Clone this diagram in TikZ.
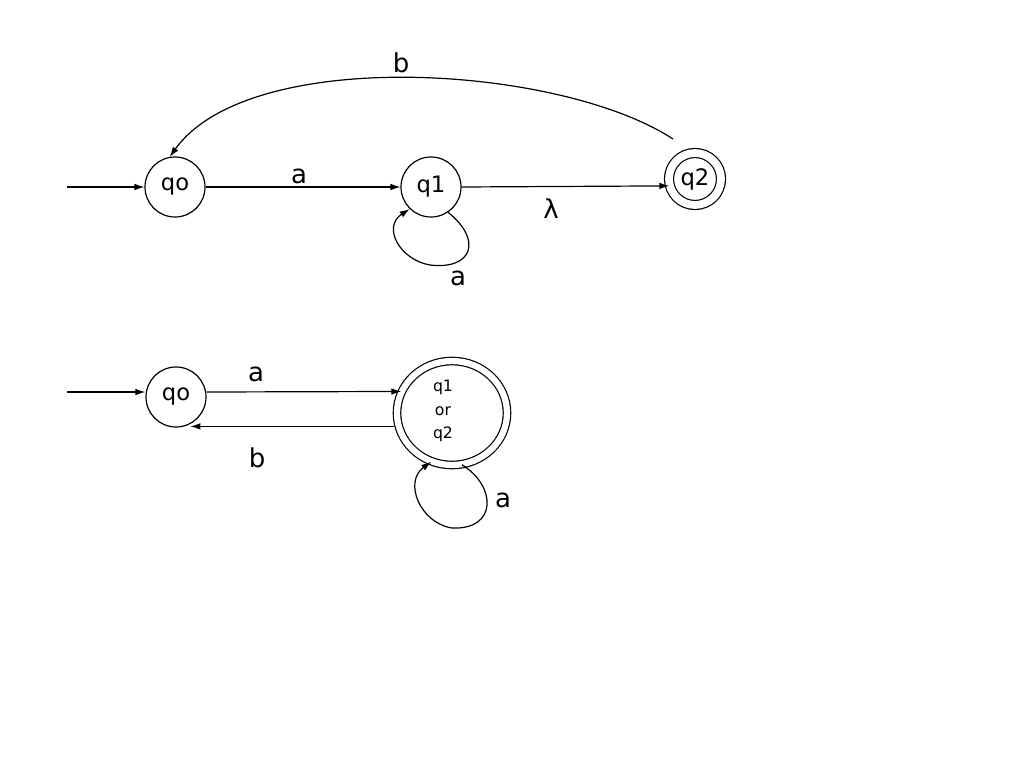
\documentclass[tikz,border=0pt]{standalone}
\usepackage{fontspec}
\setmainfont{DejaVu Sans}
\usetikzlibrary{arrows.meta,shapes.geometric,calc}
\begin{document}
\begin{tikzpicture}[x=0.75pt,y=-0.75pt,
  line width=0.9pt,
  arr/.style={-{Latex[length=7.5pt,width=5pt]}},
  state/.style={circle,draw,minimum size=45pt,inner sep=0pt,font=\fontsize{17}{20}\selectfont},
  accstate/.style={circle,draw,double,double distance=5.85pt,minimum size=39pt,inner sep=0pt,font=\fontsize{17}{20}\selectfont},
  bigacc/.style={ellipse,draw,double,double distance=4.7pt,minimum width=82.5pt,minimum height=78pt,inner sep=0pt},
  lbl/.style={inner sep=0pt,font=\fontsize{19.5}{23}\selectfont},
  smalltxt/.style={inner sep=0pt,align=center,font=\fontsize{11.8}{17.6}\selectfont}]
\path[use as bounding box,fill=white] (0,0) rectangle (1024,768);

% ---------- top automaton ----------
\node[state] (qoA) at (175,187) {qo};
\node[state] (qA1) at (431,187) {q1};
\node[accstate] (qA2) at (695,179) {q2};
\coordinate (sA) at (67,187);
\coordinate (q2b) at ($(qA2.center)+(-22,-40)$);

\draw[arr] (sA) -- (qoA.west);
\draw[arr] (qoA.east) -- (qA1.west);
\draw[arr] (qA1.east) -- (qA2.195);
\draw[arr] (q2b) .. controls (560,65) and (250,45) .. (qoA.100);
\draw[arr] (qA1.-56) .. controls +(35,28) and +(42,5) .. (430,265)
           .. controls +(-30,-5) and +(-28,18) .. (qA1.-134);

\node[lbl] (la1) at (299,176) {a};
\node[lbl] (llam) at (551,209) {λ};
\node[lbl] (lb1) at (401,63) {b};
\node[lbl] (la2) at (458,278) {a};

% ---------- bottom automaton ----------
\node[state] (qoB) at (176,397) {qo};
\node[bigacc] (qB) at (452,413) {};
\node[smalltxt] (qBt) at (443,411) {q1\\or\\q2};
\coordinate (sB) at (67,392);

\draw[arr] (sB) -- (qoB.west |- sB);
\draw[arr] (qoB.east |- sB) -- (qB.157);
\draw[arr] ([xshift=-3pt]qB.194) -- (qoB.-62 |- qB.194);
\draw[arr] (qB.-79) .. controls +(35,22) and +(45,2) .. (452,528)
           .. controls +(-32,-5) and +(-28,20) .. (qB.-113);

\node[lbl] (lb3) at (256,374) {a};
\node[lbl] (lb4) at (257,458) {b};
\node[lbl] (lb5) at (503,500) {a};
\end{tikzpicture}
\end{document}
